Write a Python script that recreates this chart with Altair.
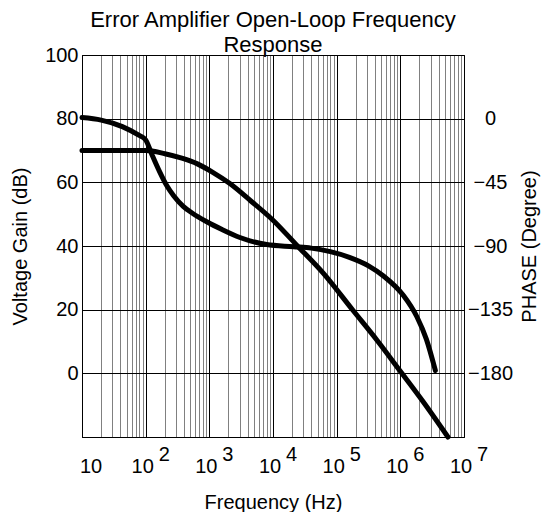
import altair as alt
import pandas as pd

FONT = "Liberation Sans"

# Voltage gain curve (Hz, dB)
gain_freq = [10, 32, 100, 200, 370, 650, 1100, 2100, 4400, 10000, 23000,
             62000, 180000, 430000, 980000, 2300000, 5600000]
gain_db = [70, 70, 70, 69.0, 67.6, 65.8, 63.3, 59.6, 54.3, 48.1, 40.5,
           31.4, 19.8, 10.4, 0.9, -9.0, -20]

# Phase curve (Hz, degree)
phase_freq = [10, 20, 43, 78, 100, 126, 166, 214, 275, 389, 550, 912, 1585,
              3020, 7943, 21000, 39800, 79400, 158500, 316000, 537000,
              1120000, 1820000, 2570000, 3550000]
phase_deg = [0.8, -1, -5.6, -11.7, -15, -25.6, -37.6, -47.3, -54.5, -62,
             -67, -72.9, -78.4, -84, -89, -90.5, -91.5, -94, -98, -104,
             -111, -125, -140, -156, -178]

# Axis ticks / labels
decades = [10, 100, 1000, 10000, 100000, 1000000, 10000000]
multipliers = [1, 2, 3, 4, 5, 6, 7, 8, 9]
exponents = ["", "2", "3", "4", "5", "6", "7"]
gain_ticks = [0, 20, 40, 60, 80, 100]
phase_ticks = [0, -45, -90, -135, -180]

grid_vals = [m * d for d in decades[:-1] for m in multipliers] + [decades[-1]]

gain_df = pd.DataFrame({"freq": gain_freq, "db": gain_db})
phase_df = pd.DataFrame({"freq": phase_freq, "deg": phase_deg})
lab_df = pd.DataFrame({"freq": decades, "base": ["10"] * len(decades), "exp": exponents})

major_test = "abs(log(datum.value)/LN10 - round(log(datum.value)/LN10)) < 1e-6"

x_enc = alt.X(
    "freq:Q",
    scale=alt.Scale(type="log", domain=[10, 1e7], nice=False),
    axis=alt.Axis(
        values=grid_vals, labels=False, ticks=False, grid=True,
        gridColor={"condition": {"test": major_test, "value": "#000000"}, "value": "#808080"},
        gridWidth=1, gridOpacity=1, domainColor="black", domainWidth=1,
        title="Frequency (Hz)", titleFont=FONT, titleFontSize=20,
        titleFontWeight="normal", titleColor="black", titlePadding=55,
    ),
)

y_gain = alt.Y(
    "db:Q",
    scale=alt.Scale(domain=[-20, 100], nice=False),
    axis=alt.Axis(
        values=gain_ticks, ticks=False, grid=True, gridColor="black",
        gridWidth=1, gridOpacity=1, domainColor="black", labelFont=FONT,
        labelFontSize=20, labelColor="black", labelPadding=4,
        title="Voltage Gain (dB)", titleFont=FONT, titleFontSize=20,
        titleFontWeight="normal", titleColor="black", titlePadding=14,
    ),
)

gain_line = alt.Chart(gain_df).mark_line(
    color="black", strokeWidth=5, interpolate="monotone", strokeCap="round"
).encode(x=x_enc, y=y_gain)

first_lab = alt.Chart(lab_df).transform_filter("datum.exp == ''").mark_text(
    font=FONT, fontSize=20, color="black", align="center", dx=9, dy=30
).encode(x=x_enc, y=alt.YDatum(-20), text="base:N")

other_lab = alt.Chart(lab_df).transform_filter("datum.exp != ''").mark_text(
    font=FONT, fontSize=20, color="black", align="center", dx=-3, dy=30
).encode(x=x_enc, y=alt.YDatum(-20), text="base:N")

exp_lab = alt.Chart(lab_df).transform_filter("datum.exp != ''").mark_text(
    font=FONT, fontSize=20, color="black", align="left", dx=13, dy=18
).encode(x=x_enc, y=alt.YDatum(-20), text="exp:N")

left_group = alt.layer(gain_line, first_lab, other_lab, exp_lab)

phase_line = alt.Chart(phase_df).mark_line(
    color="black", strokeWidth=5, interpolate="monotone", strokeCap="round"
).encode(
    x=x_enc,
    y=alt.Y(
        "deg:Q",
        scale=alt.Scale(domain=[-225, 45], nice=False),
        axis=alt.Axis(
            orient="right", values=phase_ticks, ticks=False, grid=False,
            domain=False, labelFont=FONT, labelFontSize=20, labelColor="black",
            labelAlign="center", labelPadding=26,
            title="PHASE (Degree)", titleFont=FONT, titleFontSize=20,
            titleFontWeight="normal", titleColor="black", titleAngle=270,
            titlePadding=27,
        ),
    ),
)

chart = alt.layer(left_group, phase_line).resolve_scale(y="independent").properties(
    width=382,
    height=382,
    autosize=alt.AutoSizeParams(type="none"),
    padding={"left": 74, "top": 47, "right": 84, "bottom": 75},
    title=alt.Title(
        ["Error Amplifier Open-Loop Frequency", "Response"],
        font=FONT, fontSize=22, fontWeight="normal", color="black",
        anchor="middle", offset=-12, lineHeight=25,
    ),
).configure_view(stroke="black", strokeWidth=1)

chart.save("out.html", embed_options={"renderer": "svg", "actions": False})
